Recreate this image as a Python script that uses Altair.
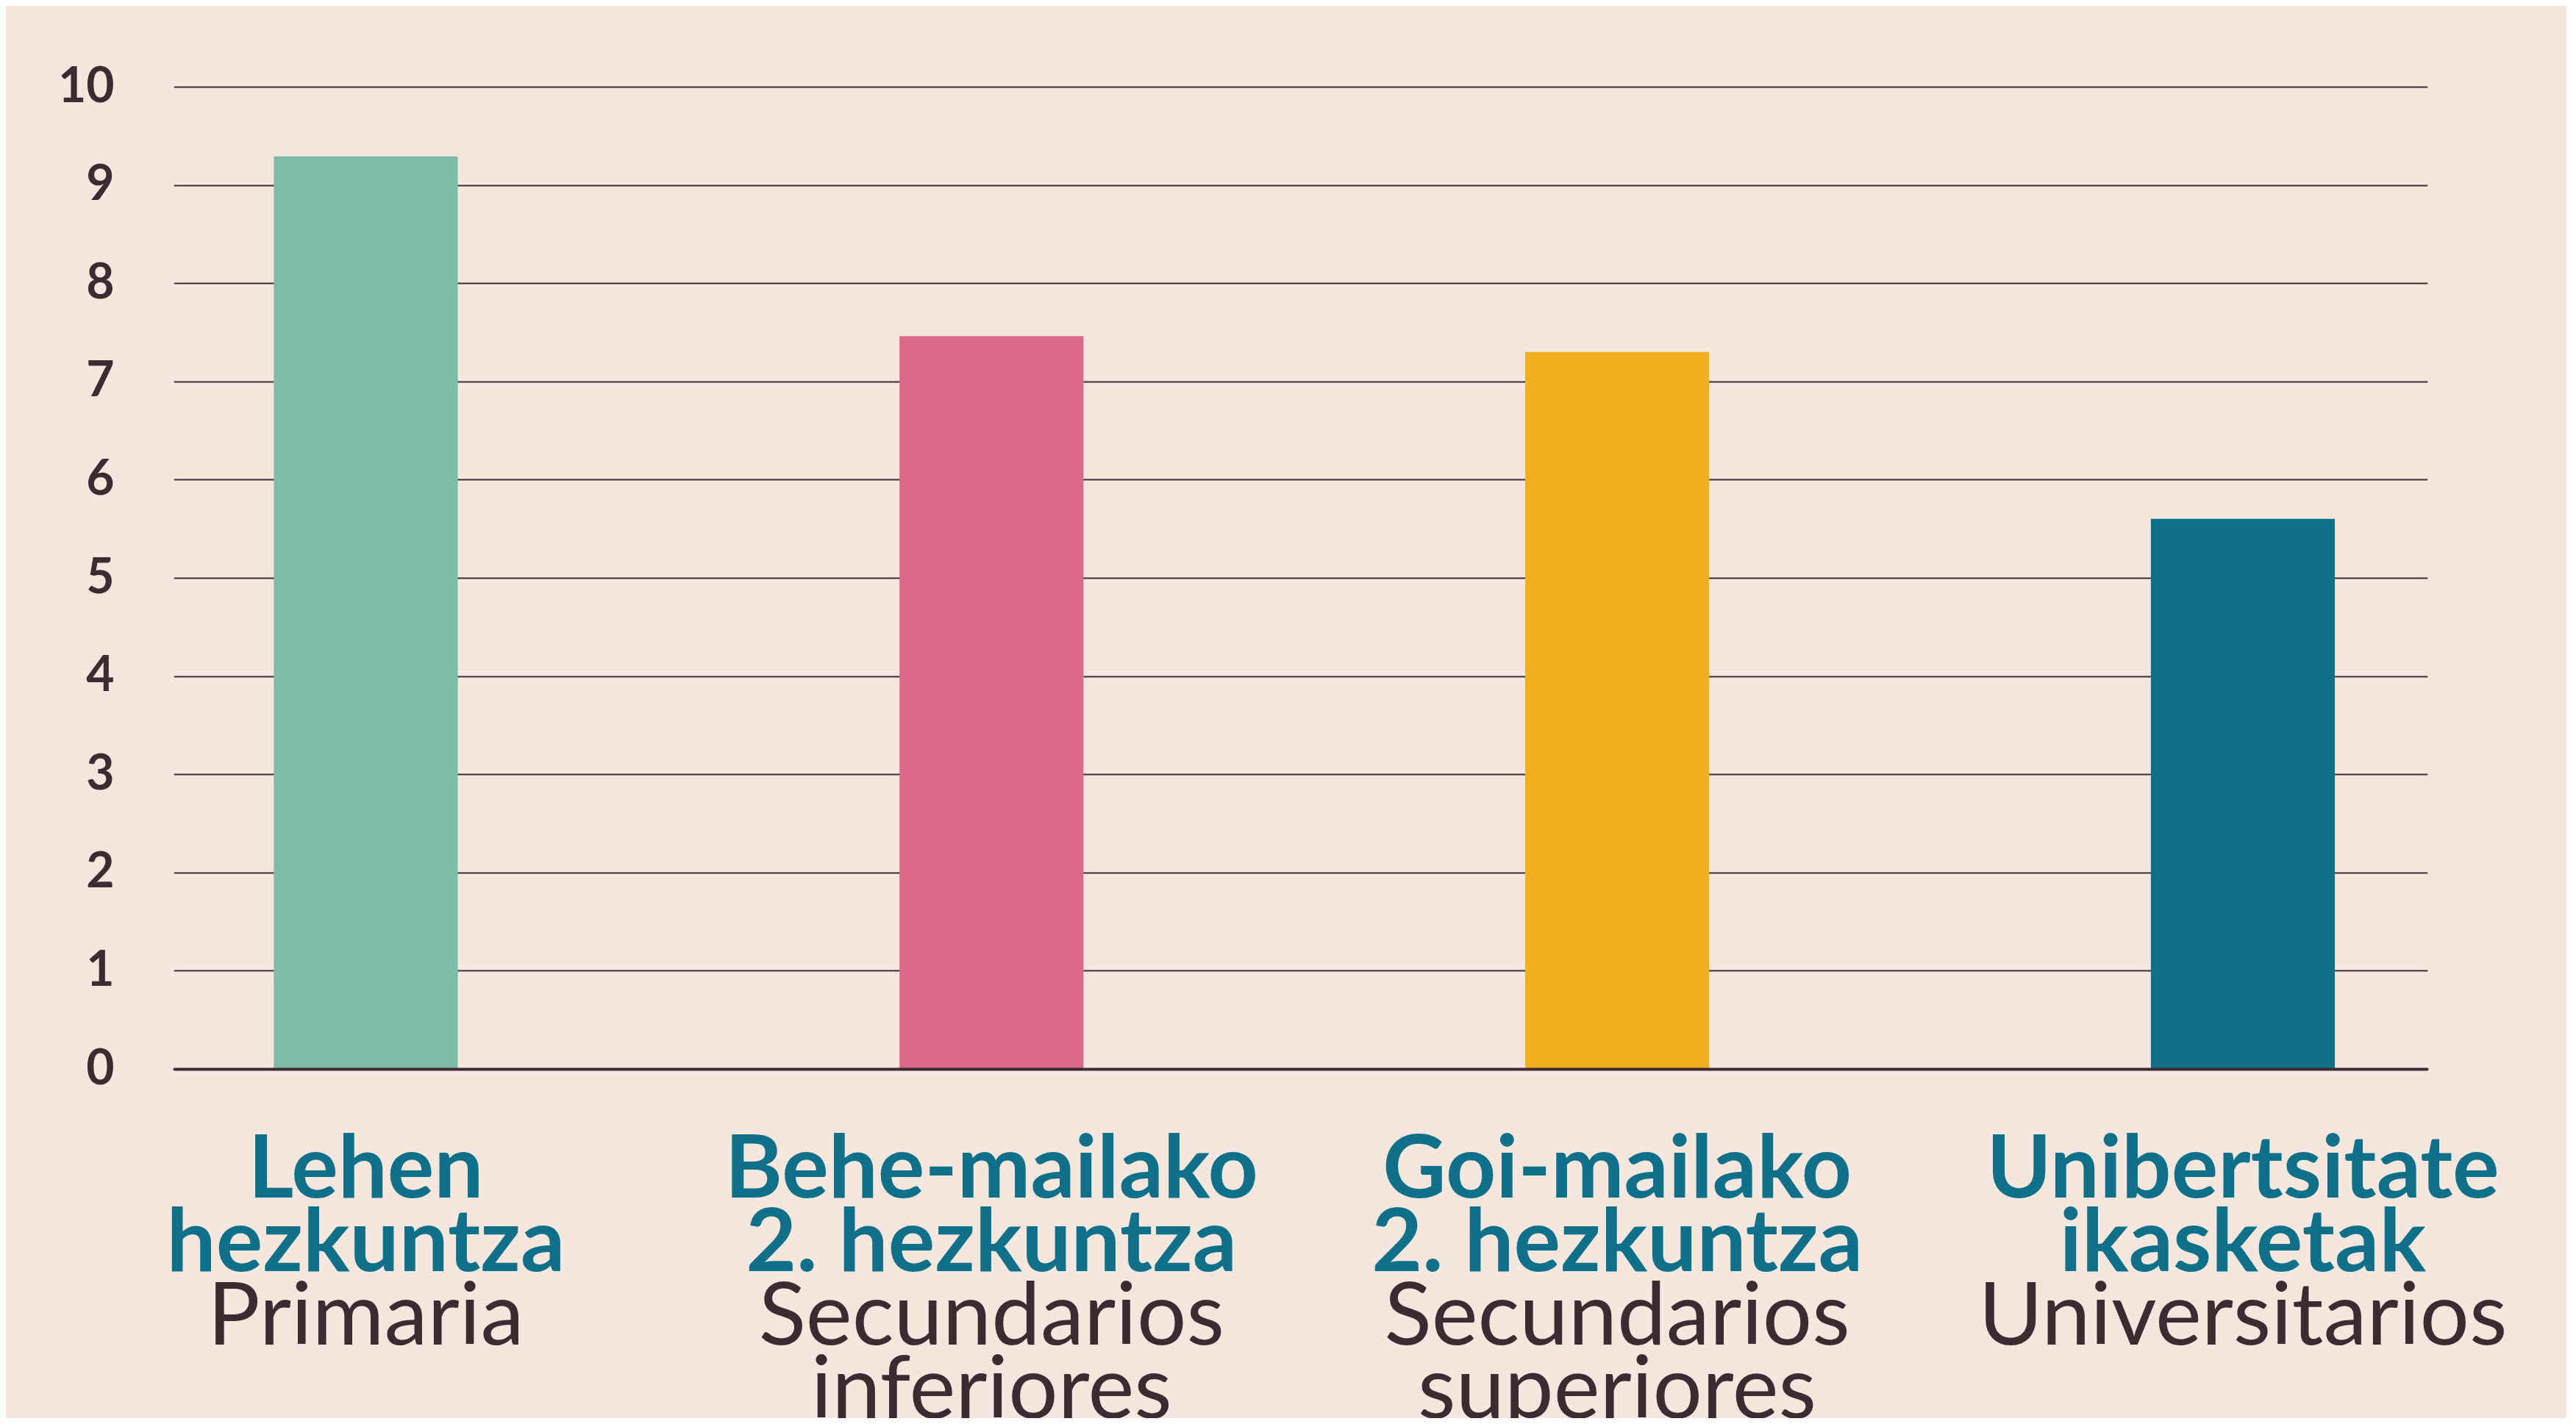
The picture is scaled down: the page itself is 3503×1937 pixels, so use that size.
import altair as alt
import pandas as pd

categories = ["Lehen hezkuntza", "Behe-mailako 2. hezkuntza", "Goi-mailako 2. hezkuntza", "Unibertsitate ikasketak"]
values = [9.29, 7.46, 7.30, 5.60]
labels_eu = [["Lehen", "hezkuntza"], ["Behe-mailako", "2. hezkuntza"], ["Goi-mailako", "2. hezkuntza"], ["Unibertsitate", "ikasketak"]]
labels_es = [["Primaria"], ["Secundarios", "inferiores"], ["Secundarios", "superiores"], ["Universitarios"]]
bar_colors = ["#7dbca8", "#db698c", "#efb01c", "#0e7189"]
y_ticks = list(range(0, 11))

DARK = "#3d2b31"
TEAL = "#0e7189"
BG = "#f5e6de"

df = pd.DataFrame({
    "cat": categories,
    "value": values,
    "eu": ["\n".join(l) for l in labels_eu],
    "es": ["\n".join(l) for l in labels_es],
})

x_scale = alt.Scale(paddingInner=0.706, paddingOuter=0.153, align=0.52)
x_enc = alt.X(
    "cat:N",
    sort=categories,
    scale=x_scale,
    axis=alt.Axis(labels=False, ticks=False, title=None, domain=True,
                  domainColor=DARK, domainWidth=4, domainCap="round", zindex=1),
)
y_scale = alt.Scale(domain=[0, 10], nice=False)

bars = alt.Chart(df).mark_bar().encode(
    x=x_enc,
    y=alt.Y("value:Q", scale=y_scale,
            axis=alt.Axis(values=y_ticks, format="d", title=None, domain=False, ticks=False,
                          labelFont="Lato", labelFontWeight="bold", labelFontSize=66,
                          labelColor=DARK, labelPadding=82,
                          grid=True, gridColor=DARK, gridWidth=2, gridCap="round",
                          zindex=0)),
    color=alt.Color("cat:N", scale=alt.Scale(domain=categories, range=bar_colors), legend=None),
)

eu_text = alt.Chart(df).mark_text(
    font="Lato", fontWeight="bold", fontSize=119, color=TEAL,
    baseline="alphabetic", align="center", lineBreak="\n", lineHeight=100, dy=175,
).encode(
    x=alt.X("cat:N", sort=categories),
    y=alt.datum(0, scale=y_scale),
    text="eu:N",
)

es_text = alt.Chart(df).mark_text(
    font="Lato", fontWeight="normal", fontSize=119, color=DARK,
    baseline="alphabetic", align="center", lineBreak="\n", lineHeight=100, dy=375,
).encode(
    x=alt.X("cat:N", sort=categories),
    y=alt.datum(0, scale=y_scale),
    text="es:N",
)

chart = alt.layer(bars, eu_text, es_text).properties(
    width=3063,
    height=1336,
    background=BG,
    padding={"left": 229, "top": 110, "right": 190, "bottom": 475},
    autosize=alt.AutoSizeParams(type="none"),
).configure_view(stroke=None)

chart.save("out.html", embed_options={"renderer": "svg", "actions": False})
